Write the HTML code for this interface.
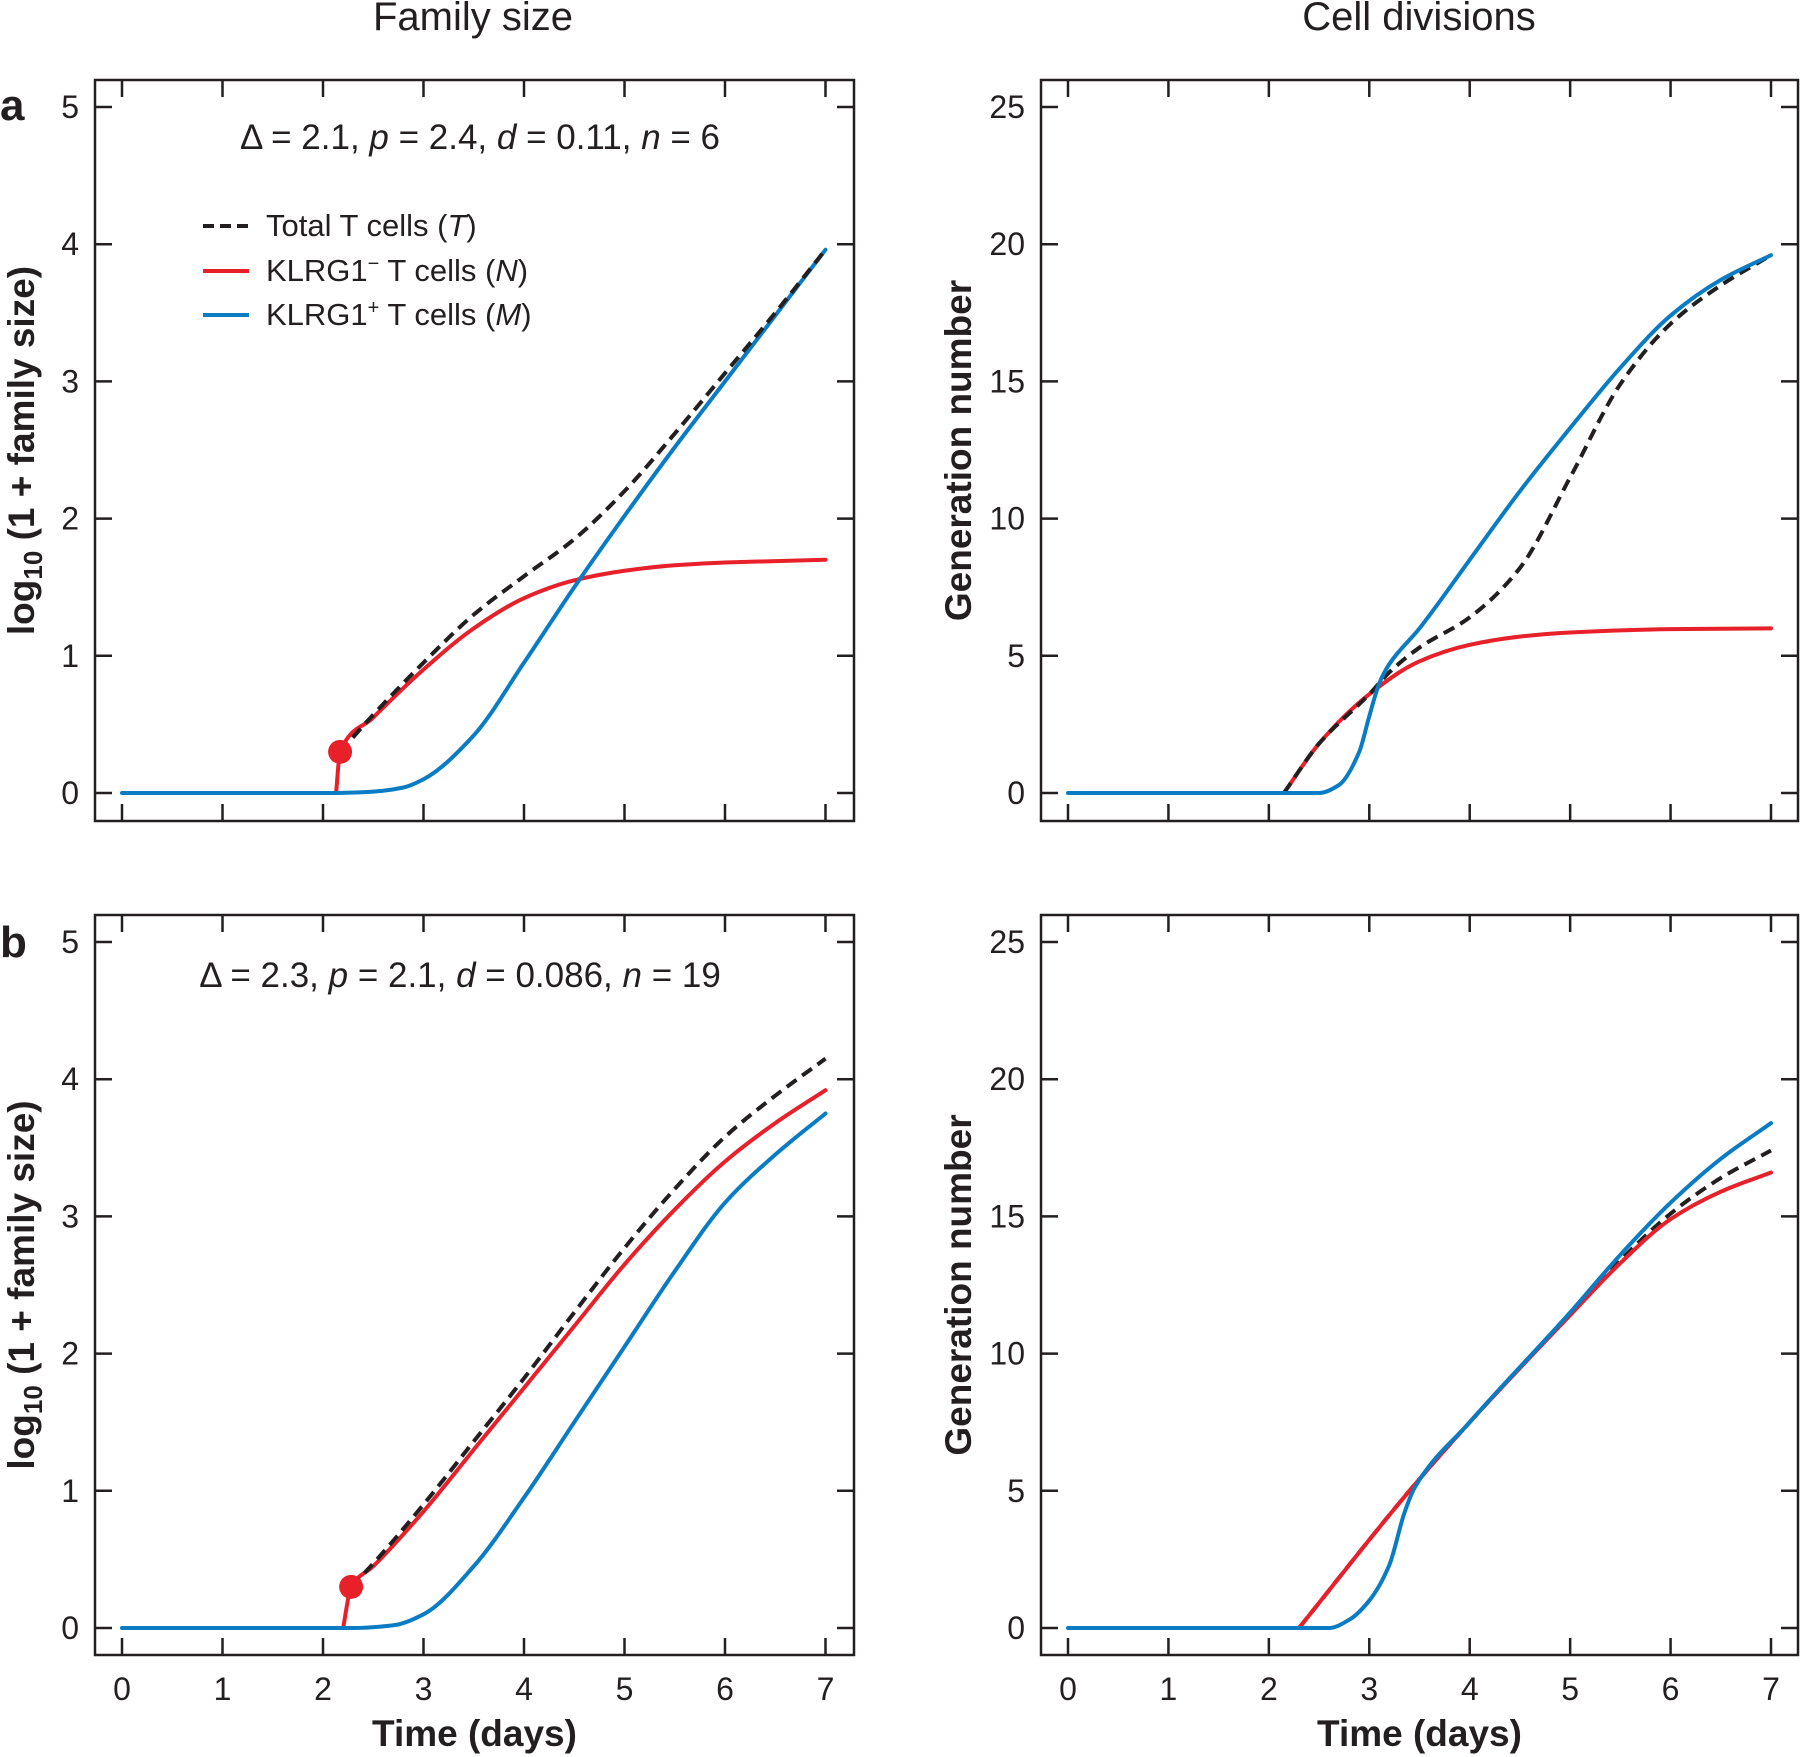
<!DOCTYPE html>
<html><head><meta charset="utf-8"><style>
body{margin:0;background:#fff}
svg{display:block;font-family:"Liberation Sans",sans-serif}
</style></head><body>
<svg id="fig" width="1800" height="1757" viewBox="0 0 1800 1757" xmlns="http://www.w3.org/2000/svg"></svg>
<script>
// ---- data ----
const xTicks=[0,1,2,3,4,5,6,7];
const famTicks=[0,1,2,3,4,5];
const genTicks=[0,5,10,15,20,25];
// panel a family size
const aFamRedT=[2.13,2.17,2.5,3,3.5,4,4.5,5,5.5,6,6.5,7];
const aFamRedV=[0,0.3,0.55,0.9,1.2,1.42,1.55,1.62,1.66,1.68,1.69,1.7];
const aFamBlkT=[2.17,2.5,3,3.5,4,4.5,5,5.5,6,6.5,7];
const aFamBlkV=[0.3,0.57,0.95,1.3,1.58,1.85,2.2,2.62,3.06,3.5,3.96];
const aFamBluT=[0,2.1,2.5,2.8,3,3.5,4,4.5,5,5.5,6,6.5,7];
const aFamBluV=[0,0,0.01,0.04,0.1,0.42,0.95,1.5,2.02,2.52,3.0,3.48,3.96];
const aDot=[2.17,0.3];
// panel a generation
const aGenRedT=[2.15,2.5,3,3.5,4,4.5,5,6,7];
const aGenRedV=[0,1.8,3.6,4.8,5.4,5.7,5.85,5.97,6.0];
const aGenBlkT=[2.15,2.5,3,3.2,3.5,4,4.5,5,5.5,6,6.5,7];
const aGenBlkV=[0,1.8,3.6,4.4,5.3,6.4,8.2,11.5,14.9,17.1,18.5,19.6];
const aGenBluT=[0,2.5,2.7,2.9,3.0,3.1,3.2,3.5,4,4.5,5,5.5,6,6.5,7];
const aGenBluV=[0,0,0.3,1.5,2.8,4.0,4.7,6.0,8.5,11.0,13.3,15.5,17.4,18.7,19.6];
// panel b family size
const bFamRedT=[2.2,2.28,2.5,3,3.5,4,4.5,5,5.5,6,6.5,7];
const bFamRedV=[0,0.3,0.45,0.85,1.3,1.75,2.2,2.65,3.05,3.4,3.68,3.92];
const bFamBlkT=[2.28,2.5,3,3.5,4,4.5,5,5.5,6,6.5,7];
const bFamBlkV=[0.3,0.47,0.9,1.36,1.82,2.3,2.77,3.2,3.58,3.88,4.15];
const bFamBluT=[0,2.3,2.7,3,3.5,4,4.5,5,5.5,6,6.5,7];
const bFamBluV=[0,0,0.02,0.1,0.45,0.95,1.5,2.05,2.6,3.1,3.45,3.75];
const bDot=[2.28,0.3];
// panel b generation
const bGenRedT=[2.3,3.4,4,5,5.5,6,6.5,7];
const bGenRedV=[0,5,7.5,11.4,13.3,14.9,15.9,16.6];
const bGenBlkT=[2.3,3.4,4,5,5.5,6,6.5,7];
const bGenBlkV=[0,5,7.5,11.45,13.4,15.1,16.4,17.4];
const bGenBluT=[0,2.6,2.8,3,3.2,3.35,3.45,4,5,5.5,6,6.5,7];
const bGenBluV=[0,0,0.3,1,2.3,4.2,5.1,7.5,11.5,13.6,15.5,17.1,18.4];

const NS="http://www.w3.org/2000/svg";
const svg=document.getElementById('fig');
function mk(tag,attrs,parent){const e=document.createElementNS(NS,tag);for(const k in attrs)e.setAttribute(k,attrs[k]);(parent||svg).appendChild(e);return e;}
const RED="#e8202a",BLUE="#0a7cc4",BLK="#231f20";

// monotone cubic (Fritsch-Carlson) path
function smooth(pts){
  const n=pts.length;
  if(n<3){return "M"+pts.map(p=>p[0]+","+p[1]).join(" L");}
  const dx=[],s=[];
  for(let i=0;i<n-1;i++){dx.push(pts[i+1][0]-pts[i][0]);s.push((pts[i+1][1]-pts[i][1])/dx[i]);}
  const m=new Array(n);
  m[0]=s[0];m[n-1]=s[n-2];
  for(let i=1;i<n-1;i++){
    if(s[i-1]*s[i]<=0)m[i]=0;
    else{const w1=2*dx[i]+dx[i-1],w2=dx[i]+2*dx[i-1];m[i]=(w1+w2)/(w1/s[i-1]+w2/s[i]);}
  }
  let d="M"+pts[0][0]+","+pts[0][1];
  for(let i=0;i<n-1;i++){
    const h=dx[i]/3;
    d+=" C"+(pts[i][0]+h)+","+(pts[i][1]+m[i]*h)+" "+(pts[i+1][0]-h)+","+(pts[i+1][1]-m[i+1]*h)+" "+pts[i+1][0]+","+pts[i+1][1];
  }
  return d;
}

function panel(o){
  const xs=t=>o.x0+t*(o.x7-o.x0)/7;
  const ys=v=>o.y0-v*(o.y0-o.yMaxPx)/o.yMax;
  const g=mk('g',{});
  
  
  const fr=mk('rect',{x:o.L,y:o.T,width:o.R-o.L,height:o.B-o.T,fill:'none',stroke:BLK,'stroke-width':2.5},g);
  
  
  xTicks.forEach(t=>{
    const x=xs(t);
    const a=mk('line',{x1:x,x2:x,y1:o.B,y2:o.B-17,stroke:BLK,'stroke-width':2.5},g);
    
    
    const b=mk('line',{x1:x,x2:x,y1:o.T,y2:o.T+17,stroke:BLK,'stroke-width':2.5},g);
    
    
    if(o.xlabels){
      const tx=mk('text',{x:x,y:o.B+45,'text-anchor':'middle','font-size':32,fill:BLK},g);
      tx.textContent=t;
      
      
    }
  });
  o.yTicks.forEach(v=>{
    const y=ys(v);
    const a=mk('line',{x1:o.L,x2:o.L+17,y1:y,y2:y,stroke:BLK,'stroke-width':2.5},g);
    
    
    const b=mk('line',{x1:o.R,x2:o.R-17,y1:y,y2:y,stroke:BLK,'stroke-width':2.5},g);
    
    
    const tx=mk('text',{x:o.L-16,y:y+11,'text-anchor':'end','font-size':32,fill:BLK},g);
    tx.textContent=v;
    
    
  });
  o.series.forEach(s=>{
    const pts=s.t.map((t,i)=>[xs(t),ys(s.v[i])]);
    const p=mk('path',{d:smooth(pts),fill:'none',stroke:s.c,'stroke-width':4,'stroke-linejoin':'round','stroke-linecap':s.dash?'butt':'round'},g);
    if(s.dash)p.setAttribute('stroke-dasharray','12 7');
    
    
  });
  if(o.dot){
    const c=mk('circle',{cx:xs(o.dot[0]),cy:ys(o.dot[1]),r:12,fill:RED},g);
    
    
  }
  const yt=mk('text',{transform:`translate(${o.ytX},${(o.T+o.B)/2}) rotate(-90)`,'text-anchor':'middle','font-size':37,'font-weight':'bold',fill:BLK},g);
  
  
  if(o.fam){yt.innerHTML='log<tspan font-size="26" dy="8">10</tspan><tspan dy="-8"> (1 + family size)</tspan>';}
  else yt.textContent='Generation number';
  if(o.xlabels){
    const xt=mk('text',{x:(o.L+o.R)/2,y:1746,'text-anchor':'middle','font-size':37,'font-weight':'bold',fill:BLK},g);
    xt.textContent='Time (days)';
    
    
  }
}
const L={L:95,R:854,x0:122,x7:825.5,ytX:34};
const Rr={L:1041,R:1798,x0:1068,x7:1771,ytX:971};
const A={T:80,B:821,y0:793,yMaxPx:107};
const Bp={T:915,B:1655,y0:1628,yMaxPx:942};
panel(Object.assign({name:'panel-a-family-size',fam:true,yTicks:famTicks,yMax:5,dot:aDot,series:[
 {t:aFamRedT,v:aFamRedV,c:RED,name:'klrg1-neg-line'},{t:aFamBluT,v:aFamBluV,c:BLUE,name:'klrg1-pos-line'},{t:aFamBlkT,v:aFamBlkV,c:BLK,dash:1,name:'total-line'}]},L,A));
panel(Object.assign({name:'panel-a-cell-divisions',fam:false,yTicks:genTicks,yMax:25,series:[
 {t:aGenRedT,v:aGenRedV,c:RED,name:'klrg1-neg-line'},{t:aGenBlkT,v:aGenBlkV,c:BLK,dash:1,name:'total-line'},{t:aGenBluT,v:aGenBluV,c:BLUE,name:'klrg1-pos-line'}]},Rr,A));
panel(Object.assign({name:'panel-b-family-size',fam:true,yTicks:famTicks,yMax:5,dot:bDot,xlabels:1,series:[
 {t:bFamRedT,v:bFamRedV,c:RED,name:'klrg1-neg-line'},{t:bFamBluT,v:bFamBluV,c:BLUE,name:'klrg1-pos-line'},{t:bFamBlkT,v:bFamBlkV,c:BLK,dash:1,name:'total-line'}]},L,Bp));
panel(Object.assign({name:'panel-b-cell-divisions',fam:false,yTicks:genTicks,yMax:25,xlabels:1,series:[
 {t:bGenBlkT,v:bGenBlkV,c:BLK,dash:1,name:'total-line'},{t:bGenRedT,v:bGenRedV,c:RED,name:'klrg1-neg-line'},{t:bGenBluT,v:bGenBluV,c:BLUE,name:'klrg1-pos-line'}]},Rr,Bp));
</script>
<svg style="position:absolute;left:0;top:0" width="1800" height="1757">
<g font-family="Liberation Sans, sans-serif" fill="#231f20">
<text x="473" y="30" text-anchor="middle" font-size="40">Family size</text>
<text x="1419" y="30" text-anchor="middle" font-size="40">Cell divisions</text>
<text x="0" y="120" font-size="44" font-weight="bold">a</text>
<text x="0" y="957" font-size="44" font-weight="bold">b</text>
<text x="480" y="149" text-anchor="middle" font-size="35">Δ = 2.1, <tspan font-style="italic">p</tspan> = 2.4, <tspan font-style="italic">d</tspan> = 0.11, <tspan font-style="italic">n</tspan> = 6</text>
<text x="460" y="987" text-anchor="middle" font-size="35">Δ = 2.3, <tspan font-style="italic">p</tspan> = 2.1, <tspan font-style="italic">d</tspan> = 0.086, <tspan font-style="italic">n</tspan> = 19</text>
<g>
<line x1="203" x2="249" y1="226" y2="226" stroke="#231f20" stroke-width="4" stroke-dasharray="11 6"/>
<text x="266" y="236" font-size="31">Total T cells (<tspan font-style="italic">T</tspan>)</text>
<line x1="203" x2="249" y1="271" y2="271" stroke="#e8202a" stroke-width="4"/>
<text x="266" y="281" font-size="31">KLRG1<tspan font-size="20" dy="-11">−</tspan><tspan dy="11"> T cells (</tspan><tspan font-style="italic">N</tspan>)</text>
<line x1="203" x2="249" y1="315" y2="315" stroke="#0a7cc4" stroke-width="4"/>
<text x="266" y="325" font-size="31">KLRG1<tspan font-size="20" dy="-11">+</tspan><tspan dy="11"> T cells (</tspan><tspan font-style="italic">M</tspan>)</text>
</g>
</g></svg>
</body></html>
